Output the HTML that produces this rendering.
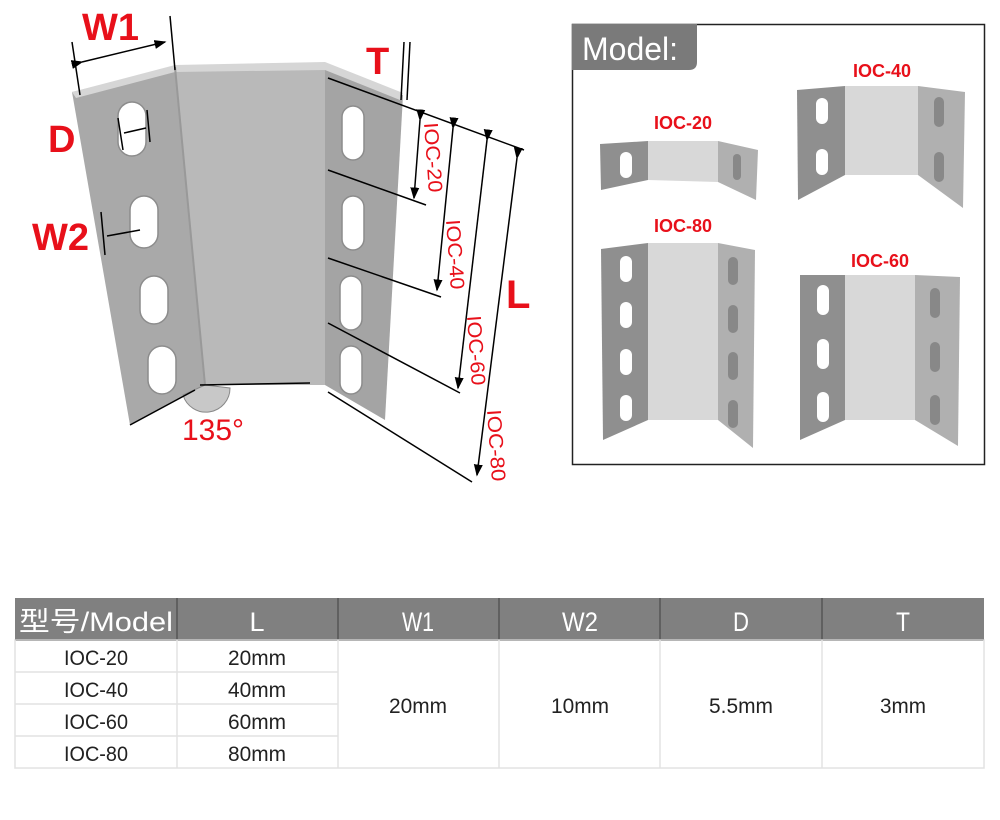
<!DOCTYPE html>
<html><head><meta charset="utf-8"><style>
html,body{margin:0;padding:0;background:#fff;}
svg{display:block}
text{font-family:"Liberation Sans","Noto Sans CJK SC",sans-serif;}
</style></head><body>
<svg width="1000" height="820" viewBox="0 0 1000 820" xmlns="http://www.w3.org/2000/svg">
<defs>
<marker id="ar" markerWidth="8" markerHeight="8" refX="7" refY="4" orient="auto"><path d="M0,1 L8,4 L0,7 z" fill="#000"/></marker>
</defs>
<polygon points="72,92 175,67 205,385 130,425" fill="#a9a9a9"/>
<polygon points="175,67 325,64 325,385 205,385" fill="#b9b9b9"/>
<polygon points="325,64 403,95 385,420 325,385" fill="#a4a4a4"/>
<polygon points="72,92 175,65 325,62 403,93 400,100 325,70 175,72 76,98" fill="#d6d6d6"/>
<line x1="175" y1="67" x2="205" y2="385" stroke="#999" stroke-width="2"/>
<g fill="#fff" stroke="#8c8c8c" stroke-width="1.5">
<rect x="118" y="102" width="28" height="54" rx="14"/>
<rect x="130" y="196" width="28" height="52" rx="14"/>
<rect x="140" y="276" width="28" height="48" rx="14"/>
<rect x="148" y="346" width="28" height="48" rx="14"/>
<rect x="342" y="106" width="22" height="54" rx="11"/>
<rect x="342" y="196" width="22" height="54" rx="11"/>
<rect x="340" y="276" width="22" height="54" rx="11"/>
<rect x="340" y="346" width="22" height="48" rx="11"/>
</g>
<path d="M183,395 A24,24 0 0 0 230,388 L205,385 z" fill="#c8c8c8" stroke="#888"/>
<line x1="200" y1="385" x2="310" y2="383" stroke="#000" stroke-width="1.5"/>
<line x1="130" y1="425" x2="195" y2="390" stroke="#000" stroke-width="1.5"/>
<g stroke="#000" stroke-width="1.5" fill="none">
<line x1="72" y1="42" x2="80" y2="95"/>
<line x1="170" y1="16" x2="175" y2="70"/>
<line x1="82" y1="62" x2="165" y2="42" marker-start="url(#ar)" marker-end="url(#ar)"/>
<line x1="118" y1="118" x2="123" y2="150"/>
<line x1="147" y1="110" x2="150" y2="142"/>
<line x1="124" y1="133" x2="146" y2="128"/>
<line x1="101" y1="212" x2="105" y2="255"/>
<line x1="107" y1="236" x2="140" y2="230"/>
<line x1="404" y1="42" x2="401" y2="100"/>
<line x1="410" y1="42" x2="407" y2="100"/>
<line x1="328" y1="78" x2="524" y2="150"/>
<line x1="328" y1="170" x2="426" y2="205"/>
<line x1="328" y1="258" x2="441" y2="297"/>
<line x1="328" y1="323" x2="460" y2="393"/>
<line x1="328" y1="392" x2="472" y2="482"/>
<line x1="420" y1="120" x2="414" y2="198" marker-start="url(#ar)" marker-end="url(#ar)"/>
<line x1="453" y1="128" x2="437" y2="290" marker-start="url(#ar)" marker-end="url(#ar)"/>
<line x1="487" y1="140" x2="458" y2="388" marker-start="url(#ar)" marker-end="url(#ar)"/>
<line x1="517" y1="158" x2="477" y2="475" marker-start="url(#ar)" marker-end="url(#ar)"/>
</g>
<g fill="#e8101a" font-weight="bold">
<text x="82" y="40" font-size="38">W1</text>
<text x="48" y="152" font-size="38">D</text>
<text x="32" y="250" font-size="38">W2</text>
<text x="366" y="74" font-size="38">T</text>
<text x="506" y="308" font-size="40">L</text>
</g>
<text x="182" y="440" font-size="30" fill="#e8101a">135°</text>
<g fill="#e8101a" font-size="20">
<text transform="translate(424,123) rotate(86)" textLength="70" lengthAdjust="spacingAndGlyphs">IOC-20</text>
<text transform="translate(446,220) rotate(86)" textLength="70" lengthAdjust="spacingAndGlyphs">IOC-40</text>
<text transform="translate(467,316) rotate(86)" textLength="70" lengthAdjust="spacingAndGlyphs">IOC-60</text>
<text transform="translate(487,410) rotate(86)" textLength="72" lengthAdjust="spacingAndGlyphs">IOC-80</text>
</g>
<rect x="572.5" y="24.5" width="412" height="440" fill="#fff" stroke="#222" stroke-width="1.5"/>
<path d="M572,24 H697 V62 Q697,70 689,70 H572 z" fill="#7a7a7a"/>
<text x="582" y="60" font-size="32" fill="#fff">Model:</text>
<g font-size="18" font-weight="bold" fill="#e8101a" text-anchor="middle">
<text x="683" y="129">IOC-20</text>
<text x="882" y="77">IOC-40</text>
<text x="683" y="232">IOC-80</text>
<text x="880" y="267">IOC-60</text>
</g>
<polygon points="600,144 648,141 648,180 601,190" fill="#8f8f8f"/>
<polygon points="648,141 718,141 718,182 648,180" fill="#d8d8d8"/>
<polygon points="718,141 758,150 756,200 718,182" fill="#b0b0b0"/>
<rect x="620" y="152" width="12" height="26" rx="6" fill="#fff"/>
<rect x="733" y="154" width="8" height="26" rx="4" fill="#888"/>
<polygon points="797,90 845,86 845,175 798,200" fill="#8f8f8f"/>
<polygon points="845,86 918,86 918,175 845,175" fill="#d8d8d8"/>
<polygon points="918,86 965,92 963,208 918,175" fill="#b0b0b0"/>
<rect x="816" y="98" width="12" height="26" rx="6" fill="#fff"/>
<rect x="816" y="149" width="12" height="26" rx="6" fill="#fff"/>
<rect x="934" y="97" width="10" height="30" rx="5" fill="#888"/>
<rect x="934" y="152" width="10" height="30" rx="5" fill="#888"/>
<polygon points="601,249 648,243 648,420 603,440" fill="#8f8f8f"/>
<polygon points="648,243 718,243 718,420 648,420" fill="#d8d8d8"/>
<polygon points="718,243 755,250 753,448 718,420" fill="#b0b0b0"/>
<g fill="#fff"><rect x="620" y="256" width="12" height="26" rx="6"/><rect x="620" y="302" width="12" height="26" rx="6"/><rect x="620" y="349" width="12" height="26" rx="6"/><rect x="620" y="395" width="12" height="26" rx="6"/></g>
<g fill="#888"><rect x="728" y="257" width="10" height="28" rx="5"/><rect x="728" y="305" width="10" height="28" rx="5"/><rect x="728" y="352" width="10" height="28" rx="5"/><rect x="728" y="400" width="10" height="28" rx="5"/></g>
<polygon points="800,275 845,275 845,420 800,440" fill="#8f8f8f"/>
<polygon points="845,275 915,275 915,420 845,420" fill="#d8d8d8"/>
<polygon points="915,275 960,277 958,446 915,420" fill="#b0b0b0"/>
<g fill="#fff"><rect x="817" y="285" width="12" height="30" rx="6"/><rect x="817" y="339" width="12" height="30" rx="6"/><rect x="817" y="392" width="12" height="30" rx="6"/></g>
<g fill="#888"><rect x="930" y="288" width="10" height="30" rx="5"/><rect x="930" y="342" width="10" height="30" rx="5"/><rect x="930" y="395" width="10" height="30" rx="5"/></g>
<rect x="15" y="598" width="969" height="42" fill="#808080"/>
<g stroke="#555" stroke-width="1.5"><line x1="177" y1="598" x2="177" y2="640"/><line x1="338" y1="598" x2="338" y2="640"/><line x1="499" y1="598" x2="499" y2="640"/><line x1="660" y1="598" x2="660" y2="640"/><line x1="822" y1="598" x2="822" y2="640"/></g>
<line x1="15" y1="640" x2="984" y2="640" stroke="#333" stroke-width="2"/>
<g stroke="#e2e2e2" stroke-width="1.5" fill="none">
<rect x="15" y="640" width="969" height="128"/>
<line x1="177" y1="640" x2="177" y2="768"/><line x1="338" y1="640" x2="338" y2="768"/><line x1="499" y1="640" x2="499" y2="768"/><line x1="660" y1="640" x2="660" y2="768"/><line x1="822" y1="640" x2="822" y2="768"/>
<line x1="15" y1="672" x2="338" y2="672"/><line x1="15" y1="704" x2="338" y2="704"/><line x1="15" y1="736" x2="338" y2="736"/>
</g>
<g fill="#fff" font-size="27" text-anchor="middle">
<text x="96" y="631" textLength="154" lengthAdjust="spacingAndGlyphs">型号/Model</text><text x="257" y="631">L</text><text x="418" y="631" textLength="32" lengthAdjust="spacingAndGlyphs">W1</text><text x="580" y="631" textLength="36" lengthAdjust="spacingAndGlyphs">W2</text><text x="741" y="631" textLength="16" lengthAdjust="spacingAndGlyphs">D</text><text x="903" y="631" textLength="14" lengthAdjust="spacingAndGlyphs">T</text>
</g>
<g fill="#222" font-size="21" text-anchor="middle" transform="scale(1,1)">
<text x="96" y="665" textLength="64" lengthAdjust="spacingAndGlyphs">IOC-20</text><text x="257" y="665" textLength="58" lengthAdjust="spacingAndGlyphs">20mm</text>
<text x="96" y="697" textLength="64" lengthAdjust="spacingAndGlyphs">IOC-40</text><text x="257" y="697" textLength="58" lengthAdjust="spacingAndGlyphs">40mm</text>
<text x="96" y="729" textLength="64" lengthAdjust="spacingAndGlyphs">IOC-60</text><text x="257" y="729" textLength="58" lengthAdjust="spacingAndGlyphs">60mm</text>
<text x="96" y="761" textLength="64" lengthAdjust="spacingAndGlyphs">IOC-80</text><text x="257" y="761" textLength="58" lengthAdjust="spacingAndGlyphs">80mm</text>
<text x="418" y="713" textLength="58" lengthAdjust="spacingAndGlyphs">20mm</text><text x="580" y="713" textLength="58" lengthAdjust="spacingAndGlyphs">10mm</text><text x="741" y="713" textLength="64" lengthAdjust="spacingAndGlyphs">5.5mm</text><text x="903" y="713" textLength="46" lengthAdjust="spacingAndGlyphs">3mm</text>
</g>
</svg>
</body></html>
